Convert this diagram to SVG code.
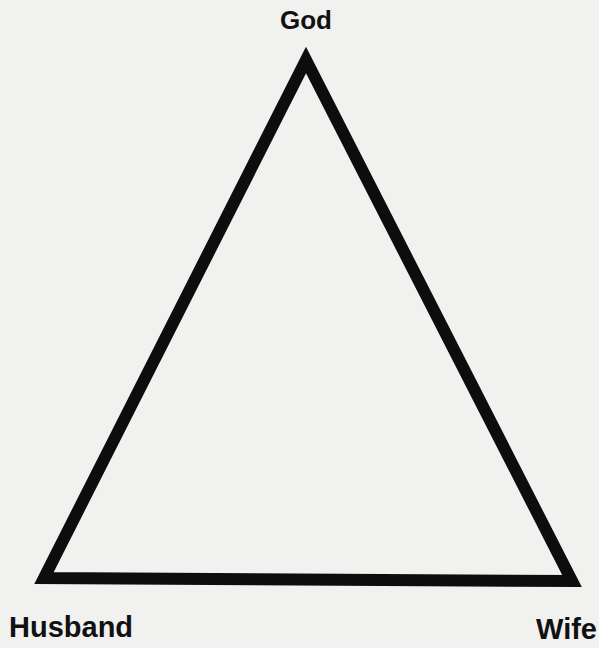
<svg xmlns="http://www.w3.org/2000/svg" width="599" height="648" viewBox="0 0 599 648">
<style>
.lbl{font-family:"Liberation Sans",Arial,sans-serif;font-weight:bold;fill:#111;}
.edge{fill:none;stroke:#0d0d0d;stroke-width:12;stroke-linejoin:miter;stroke-miterlimit:10;}
</style>
<rect width="599" height="648" fill="#f1f1f0"/>
<g id="connectors">
<polygon class="edge" points="306,60 44,578 572,581"/>
</g>
<g id="god"><text class="lbl" x="306" y="29" font-size="26" text-anchor="middle">God</text></g>
<g id="husband"><text class="lbl" x="9" y="637" font-size="29">Husband</text></g>
<g id="wife"><text class="lbl" x="597" y="639" font-size="29" text-anchor="end">Wife</text></g>
</svg>
